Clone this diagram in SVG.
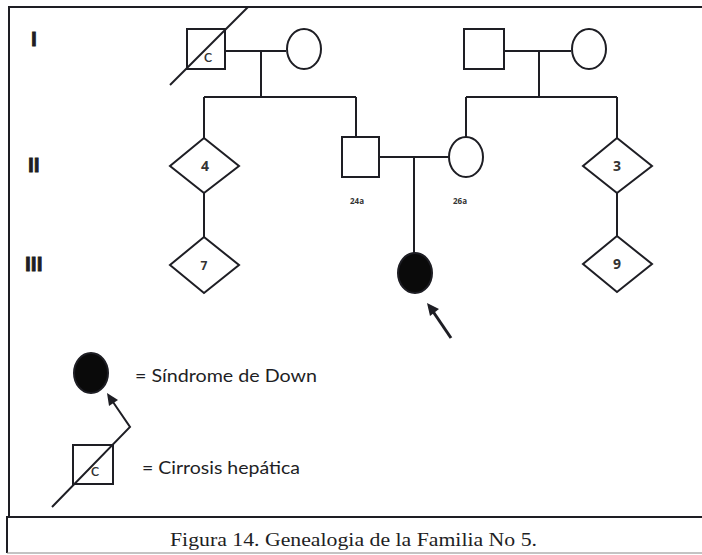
<svg xmlns="http://www.w3.org/2000/svg" width="702" height="555" viewBox="0 0 702 555">
<defs>
<style>
.ln{stroke:#1e1e24;stroke-width:2;fill:none}
.sh{stroke:#1e1e24;stroke-width:2;fill:#fff}
.fill{fill:#0a0a0a;stroke:#1e1e24;stroke-width:2}
.gen{font-family:"Liberation Sans",Arial,sans-serif;font-weight:bold;font-size:21px;fill:#1e1e24;stroke:#1e1e24;stroke-width:0.8}
.num{font-family:"Open Sans","Liberation Sans",sans-serif;font-weight:bold;font-size:14px;fill:#333;text-anchor:middle}
.age{font-family:"Open Sans","Liberation Sans",sans-serif;font-weight:bold;font-size:8px;fill:#333;text-anchor:middle}
.c{font-family:"Lato","Liberation Sans",sans-serif;font-size:18px;fill:#333;text-anchor:middle}
.leg{font-family:"Lato","Open Sans",sans-serif;font-size:18px;fill:#1e1e24}
.cap{font-family:"Liberation Serif","Times New Roman",serif;font-size:18px;fill:#1e1e24}
</style>
</defs>
<rect width="702" height="555" fill="#fff"/>
<g id="frame">
<path class="ln" d="M9,517 V7 H702"/>
<path class="ln" d="M7,553 V517 H702"/>
<path d="M7,553 H702" stroke="#888" stroke-width="1"/>
</g>
<g id="generations">
<text class="gen" x="31" y="46">I</text>
<text class="gen" x="28" y="172">II</text>
<text class="gen" x="25" y="271">III</text>
</g>
<g id="connectors">
<path class="ln" d="M225,51 H286 M261,51 V97 M204,97 H356 M204,97 V138 M356,97 V137"/>
<path class="ln" d="M504,51 H571 M539,51 V97 M466,97 H617 M466,97 V137 M617,97 V138"/>
<path class="ln" d="M379,157 H448 M414,157 V253"/>
<path class="ln" d="M204,193 V237 M617,193 V236"/>
</g>
<g id="I1">
<rect class="sh" x="187" y="29" width="38" height="40"/>
<text class="c" x="208" y="62">c</text>
<line class="ln" x1="170" y1="85" x2="248" y2="7"/>
</g>
<g id="I2"><ellipse class="sh" cx="304" cy="49" rx="17" ry="20"/></g>
<g id="I3"><rect class="sh" x="464" y="29" width="40" height="40"/></g>
<g id="I4"><ellipse class="sh" cx="589" cy="49" rx="17" ry="20"/></g>
<g id="II1">
<polygon class="sh" points="204,138 239,166 204,193 170,166"/>
<text class="num" x="205" y="171">4</text>
</g>
<g id="II2">
<rect class="sh" x="342" y="137" width="37" height="40"/>
<text class="age" x="357" y="204">24a</text>
</g>
<g id="II3">
<ellipse class="sh" cx="466" cy="157" rx="17" ry="20"/>
<text class="age" x="460" y="204">26a</text>
</g>
<g id="II4">
<polygon class="sh" points="617,138 652,166 617,193 583,166"/>
<text class="num" x="617" y="171">3</text>
</g>
<g id="III1">
<polygon class="sh" points="204,237 239,265 204,293 170,265"/>
<text class="num" x="204" y="270" style="font-size:12px">7</text>
</g>
<g id="III2">
<ellipse class="fill" cx="415" cy="273" rx="17" ry="20"/>
<line x1="451" y1="338" x2="432" y2="310" stroke="#1e1e24" stroke-width="3"/>
<polygon points="427,303 439,309 430,316" fill="#1e1e24"/>
</g>
<g id="III3">
<polygon class="sh" points="617,236 652,264 617,292 583,264"/>
<text class="num" x="617" y="269">9</text>
</g>
<g id="legend">
<ellipse class="fill" cx="91" cy="373" rx="17" ry="20"/>
<text class="leg" x="135" y="382" textLength="182" lengthAdjust="spacingAndGlyphs">= Síndrome de Down</text>
<rect class="sh" x="73" y="445" width="40" height="39"/>
<text class="c" x="95" y="476">c</text>
<path class="ln" d="M52,507 L130,427 L113,402"/>
<polygon points="107,393 118,400 109,406" fill="#1e1e24"/>
<text class="leg" x="142" y="474" textLength="158" lengthAdjust="spacingAndGlyphs">= Cirrosis hepática</text>
</g>
<g id="caption">
<text class="cap" x="170" y="546" textLength="367" lengthAdjust="spacingAndGlyphs">Figura 14. Genealogia de la Familia No 5.</text>
</g>
</svg>
